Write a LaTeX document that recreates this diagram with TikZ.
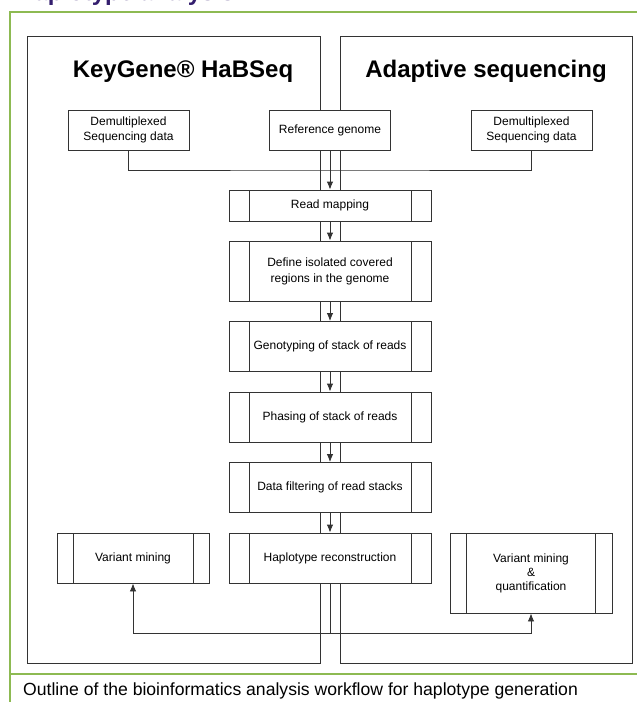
\documentclass[tikz,border=0pt]{standalone}
\usepackage{fontspec}
\setmainfont{Liberation Sans}
\usepackage{xcolor}
\usepackage{tikz}
\usetikzlibrary{arrows.meta}

\definecolor{kgpurple}{RGB}{52,30,110}
\definecolor{kggreen}{RGB}{141,186,82}
\definecolor{lineclr}{RGB}{51,51,51}

\tikzset{procbox/.style={databox,minimum width=202pt,minimum height=50pt,
    path picture={
        \draw[lineclr,line width=0.9pt]
            ([xshift=#1]path picture bounding box.north west) -- ([xshift=#1]path picture bounding box.south west)
            ([xshift=-#1]path picture bounding box.north east) -- ([xshift=-#1]path picture bounding box.south east);
    }},
    procbox/.default=20pt}

\begin{document}
\begin{tikzpicture}[x=1pt,y=-1pt,>={Latex[length=8pt,width=6.5pt]}]

        \useasboundingbox (0,0) rectangle (637,702);

        \tikzstyle{panel}=[draw=lineclr,line width=1pt]
        \tikzstyle{databox}=[draw=lineclr,fill=white,line width=0.9pt,minimum width=121pt,minimum height=40pt,inner sep=0pt,align=center,font=\fontsize{12}{15}\selectfont]
        \tikzstyle{link}=[draw=lineclr,line width=0.9pt]
        \tikzstyle{headline}=[anchor=base,inner sep=0pt,font=\bfseries\fontsize{24}{28}\selectfont]

        %% Frame of the figure
        \node[anchor=base west,inner sep=0pt,text=kgpurple,font=\bfseries\fontsize{24}{28}\selectfont] (figtitle) at (17,0) {Haplotype analysis};
        \draw[kggreen,line width=2.2pt] (10,702) -- (10,12) -- (637,12);
        \draw[kggreen,line width=2.2pt] (10,674) -- (637,674);
        \node[anchor=base west,inner sep=0pt,font=\fontsize{17.6}{20}\selectfont] (caption) at (23,695) {Outline of the bioinformatics analysis workflow for haplotype generation};

        %% The two pipelines
        \draw[panel] (27,36) rectangle (320,663);
        \draw[panel] (340,36) rectangle (632,663);
        \node[headline] (habseq) at (183,77) {KeyGene® HaBSeq};
        \node[headline] (adaptive) at (486,77) {Adaptive sequencing};

        %% Input data
        \node[databox] (demuxL) at (128.5,130) {Demultiplexed\\Sequencing data};
        \node[databox] (refgen) at (330,130) {Reference genome};
        \node[databox] (demuxR) at (531.5,130) {Demultiplexed\\Sequencing data};

        %% Shared steps
        \node[procbox,minimum height=31pt] (mapping) at (330,205.5) {Read mapping};
        \node[procbox,minimum height=60pt,font=\fontsize{12}{16}\selectfont] (regions) at (330,271) {Define isolated covered\\regions in the genome};
        \node[procbox] (genotyping) at (330,346.5) {Genotyping of stack of reads};
        \node[procbox] (phasing) at (330,417) {Phasing of stack of reads};
        \node[procbox] (filtering) at (330,487.5) {Data filtering of read stacks};
        \node[procbox] (haplo) at (330,558) {Haplotype reconstruction};

        %% Outputs
        \node[procbox=16pt,minimum width=152pt] (miningL) at (133,558) {Variant mining};
        \node[procbox=16.5pt,minimum width=162pt,minimum height=80pt,font=\fontsize{12}{14}\selectfont] (miningR) at (531,573) {Variant mining\\\&\\quantification};

        %% Connectors
        \coordinate (merge) at (330,170);
        \coordinate (split) at (330,633);
        \draw[link] (demuxL.south) |- (merge) -| (demuxR.south);
        \draw[link,->] (refgen) -- (mapping);
        \draw[link,->] (mapping) -- (regions);
        \draw[link,->] (regions) -- (genotyping);
        \draw[link,->] (genotyping) -- (phasing);
        \draw[link,->] (phasing) -- (filtering);
        \draw[link,->] (filtering) -- (haplo);
        \draw[link] (haplo) -- (split);
        \draw[link,->] (split) -| (miningL.south);
        \draw[link,->] (split) -| (miningR.south);

\end{tikzpicture}
\end{document}
